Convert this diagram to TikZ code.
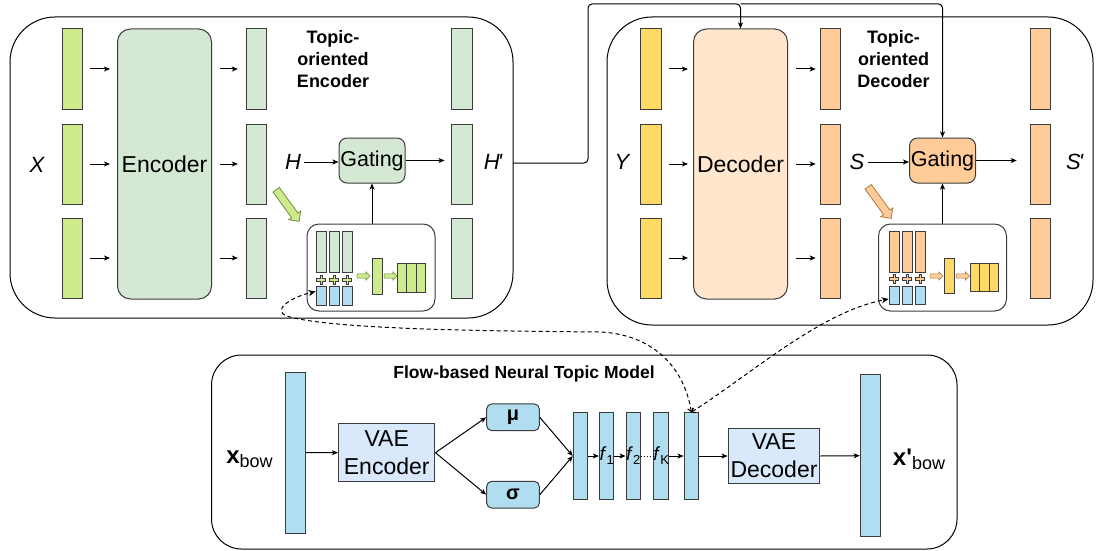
\documentclass[tikz,border=0pt]{standalone}
\usepackage{fontspec}
\setmainfont{Liberation Sans}
\usetikzlibrary{arrows.meta,shapes.arrows}

\definecolor{tlime}{HTML}{CDEB8B}
\definecolor{tgreen}{HTML}{D5E8D4}
\definecolor{tyellow}{HTML}{FFD966}
\definecolor{tpeach}{HTML}{FFE6CC}
\definecolor{torange}{HTML}{FFCC99}
\definecolor{tblue}{HTML}{B1DDF0}
\definecolor{tlblue}{HTML}{DAE8FC}
\definecolor{tdark}{HTML}{3C3C3C}
\definecolor{tdkgreen}{HTML}{6D8F3A}
\definecolor{tdkorange}{HTML}{B07A3A}

\newcommand{\ftext}[1]{\textit{f}\raisebox{-4pt}{\fontsize{13}{13}\selectfont #1}}
\newcommand{\bowtext}[1]{\textbf{#1}\raisebox{-4pt}{\fontsize{18}{18}\selectfont bow}}

\tikzset{
  arr/.style={-{Stealth[length=6pt,width=5pt,inset=1.5pt]}},
  panel/.style={draw, rounded corners=45pt},
  tokbar/.style={draw=tdark, inner sep=0pt, minimum width=20.5pt, minimum height=80pt},
  tinybar/.style={draw=tdark, line width=0.8pt, inner sep=0pt, minimum width=10.4pt},
  blkbox/.style={draw=tdark, rounded corners=13pt, inner sep=0pt, minimum width=94pt, minimum height=270pt, font=\fontsize{23}{23}\selectfont},
  gatebox/.style={draw=tdark, rounded corners=8pt, inner sep=0pt, minimum width=66pt, minimum height=45pt, font=\fontsize{21.5}{21.5}\selectfont},
  inbox/.style={draw=tdark, fill=white, rounded corners=12pt, minimum width=128pt, minimum height=87pt},
  symlab/.style={font=\fontsize{22}{22}\selectfont\itshape, inner sep=3pt},
  headtxt/.style={font=\fontsize{18}{22}\selectfont\bfseries, align=center},
  fatarrow/.style={single arrow, line width=0.8pt, inner sep=3.5pt, single arrow head extend=3.5pt, minimum height=39pt},
  smallarrow/.style={single arrow, line width=0.6pt, inner sep=1.8pt, single arrow head extend=2pt, minimum height=13pt},
  plussign/.style={draw=tdark, line width=0.6pt},
  vaebox/.style={draw=tdark, fill=tlblue, inner sep=0pt, align=center, font=\fontsize{23}{28}\selectfont},
  statbox/.style={draw=tdark, fill=tblue, rounded corners=5pt, minimum width=52.6pt, minimum height=26.7pt, font=\fontsize{20}{20}\selectfont\bfseries},
  flowbar/.style={draw=tdark, fill=tblue, inner sep=0pt, minimum width=14.5pt, minimum height=86.6pt},
  dasharr/.style={dash pattern=on 4pt off 3pt, {Straight Barb[length=3pt,width=6pt]}-{Stealth[length=7pt,width=6pt,inset=2pt]}},
}

\begin{document}
\begin{tikzpicture}[x=1pt, y=-1pt, line width=1pt]
\useasboundingbox (0,0) rectangle (1097,551);

% panels
\draw[panel] (10,17) rectangle (513,318);
\draw[panel] (607,17) rectangle (1093,325);
\draw[panel, rounded corners=30pt] (211.5,355) rectangle (957,549);

% topic-oriented encoder
\node[symlab] (xlab) at (37,165) {X};
\node[tokbar, fill=tlime] (x1) at (72.5,69) {};
\node[tokbar, fill=tlime] (x2) at (72.5,164) {};
\node[tokbar, fill=tlime] (x3) at (72.5,258) {};
\node[blkbox, fill=tgreen] (enc) at (164.5,164) {Encoder};
\node[tokbar, fill=tgreen] (h1) at (256.6,69) {};
\node[tokbar, fill=tgreen] (h2) at (256.6,164) {};
\node[tokbar, fill=tgreen] (h3) at (256.6,258) {};
\node[tokbar, fill=tgreen] (hp1) at (461.8,69) {};
\node[tokbar, fill=tgreen] (hp2) at (461.8,164) {};
\node[tokbar, fill=tgreen] (hp3) at (461.8,258) {};
\node[headtxt] (etitle) at (333,59) {Topic-\\oriented\\Encoder};
\node[symlab] (hlab) at (293,162) {H};
\node[gatebox, fill=tgreen] (egate) at (372,160.5) {Gating};
\node[symlab] (hplab) at (493,162) {H\kern-2pt\textquotesingle};
\node[inbox] (ein) at (371,267.5) {};
\node[fatarrow, fill=tlime, draw=tdkgreen, rotate=-54] (eptr) at (286.5,204) {};
\foreach \i in {1,2,3} {
  \draw[arr, shorten <=7pt, shorten >=7pt] (x\i.east) -- (x\i.east -| enc.west);
  \draw[arr, shorten <=7.5pt, shorten >=8pt] (h\i.west -| enc.east) -- (h\i.west);
}
\draw[arr] (hlab.east) -- (hlab.east -| egate.west);
\draw[arr, shorten >=6.5pt] (egate.east) -- (egate.east -| hp2.west);
\draw[arr] (ein.north -| egate.south) -- (egate.south);
\foreach \x [count=\i] in {321.2,334.2,347.2} {
  \node[tinybar, fill=tgreen, minimum height=41pt] (eg\i) at (\x,252) {};
  \node[tinybar, fill=tblue, minimum height=19pt] (eb\i) at (\x,295.5) {};
  \draw[plussign, fill=tlime, shift={(\x,280)}] (-1.4,-4.5) -- (1.4,-4.5) -- (1.4,-1.4) -- (4.5,-1.4) -- (4.5,1.4) -- (1.4,1.4) -- (1.4,4.5) -- (-1.4,4.5) -- (-1.4,1.4) -- (-4.5,1.4) -- (-4.5,-1.4) -- (-1.4,-1.4) -- cycle;
}
\node[smallarrow, fill=tlime, draw=tdkgreen] (ea1) at (362.5,276) {};
\node[tinybar, fill=tlime, minimum width=10pt, minimum height=36pt] (ez) at (377,276) {};
\node[smallarrow, fill=tlime, draw=tdkgreen] (ea2) at (389.5,276) {};
\foreach \x [count=\i] in {401.8,411.5,421.1}
  \node[tinybar, fill=tlime, minimum width=9.5pt, minimum height=28.5pt] (ed\i) at (\x,277.7) {};

% topic-oriented decoder
\node[symlab] (ylab) at (622,162) {Y};
\node[tokbar, fill=tyellow] (y1) at (651,69) {};
\node[tokbar, fill=tyellow] (y2) at (651,164) {};
\node[tokbar, fill=tyellow] (y3) at (651,258) {};
\node[blkbox, fill=tpeach] (dec) at (740.5,164) {Decoder};
\node[tokbar, fill=torange] (s1) at (830.5,69) {};
\node[tokbar, fill=torange] (s2) at (830.5,164) {};
\node[tokbar, fill=torange] (s3) at (830.5,258) {};
\node[tokbar, fill=torange] (sp1) at (1040.5,69) {};
\node[tokbar, fill=torange] (sp2) at (1040.5,164) {};
\node[tokbar, fill=torange] (sp3) at (1040.5,258) {};
\node[headtxt] (dtitle) at (893.5,59) {Topic-\\oriented\\Decoder};
\node[symlab] (slab) at (857,162) {S};
\node[gatebox, fill=torange] (dgate) at (942.5,160.5) {Gating};
\node[symlab] (splab) at (1074.6,162) {S\kern-2pt\textquotesingle};
\node[inbox] (din) at (942.5,267.5) {};
\node[fatarrow, fill=torange, draw=tdkorange, rotate=-54] (dptr) at (878.5,201) {};
\foreach \i in {1,2,3} {
  \draw[arr, shorten <=7pt, shorten >=5pt] (y\i.east) -- (y\i.east -| dec.west);
  \draw[arr, shorten <=8pt, shorten >=4pt] (s\i.west -| dec.east) -- (s\i.west);
}
\draw[arr] (slab.east) -- (slab.east -| dgate.west);
\draw[arr, shorten >=13pt] (dgate.east) -- (dgate.east -| sp2.west);
\draw[arr] (din.north -| dgate.south) -- (dgate.south);
\foreach \x [count=\i] in {894.2,907.2,920.2} {
  \node[tinybar, fill=torange, minimum height=41pt] (do\i) at (\x,251.5) {};
  \node[tinybar, fill=tblue, minimum height=18pt] (db\i) at (\x,295) {};
  \draw[plussign, fill=torange, shift={(\x,278.5)}] (-1.4,-4.5) -- (1.4,-4.5) -- (1.4,-1.4) -- (4.5,-1.4) -- (4.5,1.4) -- (1.4,1.4) -- (1.4,4.5) -- (-1.4,4.5) -- (-1.4,1.4) -- (-4.5,1.4) -- (-4.5,-1.4) -- (-1.4,-1.4) -- cycle;
}
\node[smallarrow, fill=torange, draw=tdkorange] (da1) at (935.5,276) {};
\node[tinybar, fill=tyellow, minimum width=9.5pt, minimum height=35pt] (dz) at (949.5,275.5) {};
\node[smallarrow, fill=torange, draw=tdkorange] (da2) at (962,276) {};
\foreach \x [count=\i] in {975.1,984.3,993.5}
  \node[tinybar, fill=tyellow, minimum width=9.2pt, minimum height=28pt] (dd\i) at (\x,277) {};

% encoder states to decoder
\coordinate (hout) at (513,163);
\coordinate (jn) at (588,4);
\draw[arr, rounded corners=4pt] (hout) -| (jn) -| (dec.north);
\draw[arr, rounded corners=4pt] (dec.north |- jn) -| (dgate.north);

% flow-based neural topic model
\node[font=\fontsize{17.5}{17.5}\selectfont\bfseries] (ftitle) at (524,374) {Flow-based Neural Topic Model};
\node[font=\fontsize{24}{24}\selectfont] (xbow) at (249.5,459) {\bowtext{x}};
\node[tokbar, fill=tblue, minimum width=20pt, minimum height=161pt] (xin) at (295.7,452.5) {};
\node[vaebox, minimum width=96.5pt, minimum height=57.5pt] (venc) at (386.7,452.7) {VAE\\Encoder};
\node[statbox] (mu) at (513,417.3) {μ};
\node[statbox] (sig) at (513,494.7) {σ};
\foreach \x [count=\i] in {580.5,606.7,633.3,661.2,691.3}
  \node[flowbar] (fb\i) at (\x,456) {};
\node[font=\fontsize{19}{19}\selectfont, inner sep=0pt] (f1) at (606.7,456) {\ftext{1}};
\node[font=\fontsize{19}{19}\selectfont, inner sep=0pt] (f2) at (633.3,456) {\ftext{2}};
\node[font=\fontsize{19}{19}\selectfont, inner sep=0pt] (fk) at (661.2,456) {\ftext{K}};
\node[vaebox, minimum width=91.7pt, minimum height=55.7pt] (vdec) at (774,456) {VAE\\Decoder};
\node[tokbar, fill=tblue, minimum width=20.4pt, minimum height=161.5pt] (xout) at (870.5,455.7) {};
\node[font=\fontsize{24}{24}\selectfont] (xpbow) at (919,459) {\bowtext{x\textquotesingle}};
\draw[arr] (xin.east) -- (venc.west);
\draw[arr] (venc.east) -- (mu.west);
\draw[arr] (venc.east) -- (sig.west);
\draw[arr] (mu.east) -- (fb1.west);
\draw[arr] (sig.east) -- (fb1.west);
\draw[arr] (fb1.east) -- (fb2.west);
\draw[arr] (fb2.east) -- (fb3.west);
\draw[dotted] (fb3.east) -- (fb4.west);
\draw[arr] (fb4.east) -- (fb5.west);
\draw[arr] (fb5.east) -- (vdec.west);
\draw[arr] (vdec.east) -- (xout.west);

% topic vectors fed to both gates
\draw[dasharr] (fb5.north) .. controls (684,365) and (650,334) .. (600,332)
  .. controls (500,331) and (340,330) .. (290,317)
  .. controls (270,312) and (288,298) .. ([yshift=4pt]eb1.west);
\draw[dasharr] (fb5.north) .. controls (750,375) and (820,312) .. ([yshift=-4pt]db1.west);
\end{tikzpicture}
\end{document}
